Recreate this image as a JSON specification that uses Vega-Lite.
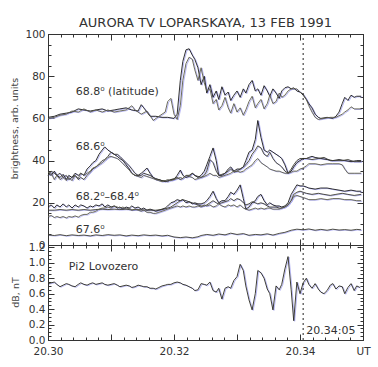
{
"$schema": "https://vega.github.io/schema/vega-lite/v6.json",
"autosize": {"type": "pad"},
"padding": {"left": 8, "top": 16, "right": 4, "bottom": 4},
"background": "white",
"config": {
  "view": {"stroke": "#333", "strokeWidth": 1},
  "axis": {"labelFont": "DejaVu Sans", "labelFontSize": 10.5, "labelColor": "#333", "tickColor": "#333", "tickWidth": 1, "titleFont": "DejaVu Sans", "titleFontSize": 9.5, "titleFontWeight": "normal", "titleColor": "#444", "grid": false, "domain": false},
  "title": {"font": "DejaVu Sans", "fontSize": 13, "fontWeight": "normal", "color": "#333"}
},
"datasets": {
  "top": [
{"s":"a1","x":20.3,"y":60.5},{"s":"a1","x":20.301,"y":61},{"s":"a1","x":20.3019,"y":62},{"s":"a1","x":20.3029,"y":62.5},{"s":"a1","x":20.3038,"y":63},{"s":"a1","x":20.3048,"y":64.5},{"s":"a1","x":20.3057,"y":64},{"s":"a1","x":20.3067,"y":63.5},{"s":"a1","x":20.3076,"y":64},{"s":"a1","x":20.3086,"y":64.5},{"s":"a1","x":20.3095,"y":63.5},{"s":"a1","x":20.3105,"y":64},{"s":"a1","x":20.3114,"y":64.5},{"s":"a1","x":20.3124,"y":65},{"s":"a1","x":20.3133,"y":64},{"s":"a1","x":20.3143,"y":63.5},{"s":"a1","x":20.3148,"y":66.5},{"s":"a1","x":20.3152,"y":65},{"s":"a1","x":20.3157,"y":63},{"s":"a1","x":20.3162,"y":61},{"s":"a1","x":20.3171,"y":61},{"s":"a1","x":20.3181,"y":60.5},{"s":"a1","x":20.319,"y":60.5},{"s":"a1","x":20.32,"y":60},{"s":"a1","x":20.3205,"y":62},{"s":"a1","x":20.321,"y":78},{"s":"a1","x":20.3214,"y":87},{"s":"a1","x":20.3219,"y":92.5},{"s":"a1","x":20.3224,"y":93},{"s":"a1","x":20.3229,"y":90},{"s":"a1","x":20.3233,"y":88},{"s":"a1","x":20.3238,"y":84},{"s":"a1","x":20.3243,"y":76},{"s":"a1","x":20.3248,"y":80},{"s":"a1","x":20.3252,"y":72},{"s":"a1","x":20.3257,"y":76},{"s":"a1","x":20.3262,"y":70},{"s":"a1","x":20.3267,"y":73},{"s":"a1","x":20.3271,"y":69},{"s":"a1","x":20.3276,"y":75},{"s":"a1","x":20.3281,"y":71},{"s":"a1","x":20.3286,"y":72.5},{"s":"a1","x":20.329,"y":68.5},{"s":"a1","x":20.3295,"y":71},{"s":"a1","x":20.33,"y":73},{"s":"a1","x":20.3305,"y":70},{"s":"a1","x":20.331,"y":74},{"s":"a1","x":20.3314,"y":72},{"s":"a1","x":20.3319,"y":76},{"s":"a1","x":20.3324,"y":78},{"s":"a1","x":20.3329,"y":73},{"s":"a1","x":20.3333,"y":74},{"s":"a1","x":20.3338,"y":71},{"s":"a1","x":20.3343,"y":75.5},{"s":"a1","x":20.3348,"y":73},{"s":"a1","x":20.3352,"y":70.5},{"s":"a1","x":20.3357,"y":74},{"s":"a1","x":20.3362,"y":72},{"s":"a1","x":20.3367,"y":69.5},{"s":"a1","x":20.3371,"y":73},{"s":"a1","x":20.3376,"y":74.5},{"s":"a1","x":20.3381,"y":75},{"s":"a1","x":20.3386,"y":74},{"s":"a1","x":20.339,"y":74.5},{"s":"a1","x":20.3395,"y":73},{"s":"a1","x":20.34,"y":72.5},{"s":"a1","x":20.3405,"y":71},{"s":"a1","x":20.341,"y":69},{"s":"a1","x":20.3414,"y":67},{"s":"a1","x":20.3419,"y":65},{"s":"a1","x":20.3424,"y":62},{"s":"a1","x":20.3429,"y":60.5},{"s":"a1","x":20.3433,"y":60},{"s":"a1","x":20.3443,"y":60.5},{"s":"a1","x":20.3452,"y":60},{"s":"a1","x":20.3457,"y":61},{"s":"a1","x":20.3462,"y":63},{"s":"a1","x":20.3467,"y":67},{"s":"a1","x":20.3471,"y":70},{"s":"a1","x":20.3476,"y":68.5},{"s":"a1","x":20.3481,"y":71},{"s":"a1","x":20.3486,"y":70},{"s":"a1","x":20.349,"y":70.5},{"s":"a1","x":20.3497,"y":70.5},
{"s":"a2","x":20.3,"y":60},{"s":"a2","x":20.301,"y":60.5},{"s":"a2","x":20.3019,"y":61.5},{"s":"a2","x":20.3029,"y":62},{"s":"a2","x":20.3038,"y":63.5},{"s":"a2","x":20.3048,"y":63},{"s":"a2","x":20.3057,"y":64.5},{"s":"a2","x":20.3067,"y":63},{"s":"a2","x":20.3076,"y":64},{"s":"a2","x":20.3086,"y":63},{"s":"a2","x":20.3095,"y":64},{"s":"a2","x":20.3105,"y":63},{"s":"a2","x":20.3114,"y":63.5},{"s":"a2","x":20.3124,"y":64},{"s":"a2","x":20.3133,"y":66},{"s":"a2","x":20.3138,"y":64},{"s":"a2","x":20.3148,"y":62},{"s":"a2","x":20.3157,"y":63.5},{"s":"a2","x":20.3167,"y":59},{"s":"a2","x":20.3176,"y":61},{"s":"a2","x":20.3186,"y":63},{"s":"a2","x":20.319,"y":68},{"s":"a2","x":20.3195,"y":69.5},{"s":"a2","x":20.32,"y":62},{"s":"a2","x":20.3205,"y":59.5},{"s":"a2","x":20.321,"y":66},{"s":"a2","x":20.3214,"y":78},{"s":"a2","x":20.3219,"y":86},{"s":"a2","x":20.3224,"y":89},{"s":"a2","x":20.3229,"y":88},{"s":"a2","x":20.3233,"y":83},{"s":"a2","x":20.3238,"y":78},{"s":"a2","x":20.3243,"y":84},{"s":"a2","x":20.3248,"y":77},{"s":"a2","x":20.3252,"y":73},{"s":"a2","x":20.3257,"y":74},{"s":"a2","x":20.3262,"y":67},{"s":"a2","x":20.3267,"y":69},{"s":"a2","x":20.3271,"y":64},{"s":"a2","x":20.3276,"y":66},{"s":"a2","x":20.3281,"y":70},{"s":"a2","x":20.3286,"y":65},{"s":"a2","x":20.329,"y":62.5},{"s":"a2","x":20.3295,"y":67},{"s":"a2","x":20.33,"y":63},{"s":"a2","x":20.3305,"y":65},{"s":"a2","x":20.331,"y":61.5},{"s":"a2","x":20.3314,"y":64},{"s":"a2","x":20.3319,"y":68},{"s":"a2","x":20.3324,"y":70.5},{"s":"a2","x":20.3329,"y":65},{"s":"a2","x":20.3333,"y":67},{"s":"a2","x":20.3338,"y":69},{"s":"a2","x":20.3343,"y":64.5},{"s":"a2","x":20.3348,"y":67},{"s":"a2","x":20.3352,"y":71},{"s":"a2","x":20.3357,"y":67},{"s":"a2","x":20.3362,"y":68},{"s":"a2","x":20.3367,"y":72},{"s":"a2","x":20.3371,"y":70},{"s":"a2","x":20.3376,"y":71},{"s":"a2","x":20.3381,"y":73},{"s":"a2","x":20.3386,"y":74},{"s":"a2","x":20.339,"y":74},{"s":"a2","x":20.3395,"y":74},{"s":"a2","x":20.34,"y":72.5},{"s":"a2","x":20.3405,"y":71.5},{"s":"a2","x":20.341,"y":69},{"s":"a2","x":20.3414,"y":66},{"s":"a2","x":20.3419,"y":63},{"s":"a2","x":20.3424,"y":60.5},{"s":"a2","x":20.3429,"y":59.5},{"s":"a2","x":20.3438,"y":60},{"s":"a2","x":20.3448,"y":60.5},{"s":"a2","x":20.3457,"y":60.5},{"s":"a2","x":20.3467,"y":62},{"s":"a2","x":20.3471,"y":63},{"s":"a2","x":20.3476,"y":64},{"s":"a2","x":20.3481,"y":65.5},{"s":"a2","x":20.3486,"y":64.5},{"s":"a2","x":20.3497,"y":64.5},
{"s":"b1","x":20.3,"y":34},{"s":"b1","x":20.3005,"y":33},{"s":"b1","x":20.301,"y":35},{"s":"b1","x":20.3014,"y":33},{"s":"b1","x":20.3019,"y":32},{"s":"b1","x":20.3024,"y":33.5},{"s":"b1","x":20.3029,"y":31},{"s":"b1","x":20.3033,"y":33},{"s":"b1","x":20.3038,"y":32},{"s":"b1","x":20.3043,"y":34},{"s":"b1","x":20.3048,"y":33},{"s":"b1","x":20.3052,"y":34},{"s":"b1","x":20.3057,"y":33},{"s":"b1","x":20.3062,"y":36},{"s":"b1","x":20.3067,"y":37.5},{"s":"b1","x":20.3071,"y":39},{"s":"b1","x":20.3076,"y":40},{"s":"b1","x":20.3081,"y":43},{"s":"b1","x":20.3086,"y":45},{"s":"b1","x":20.309,"y":46.5},{"s":"b1","x":20.3095,"y":45},{"s":"b1","x":20.31,"y":44},{"s":"b1","x":20.3105,"y":43},{"s":"b1","x":20.311,"y":42},{"s":"b1","x":20.3114,"y":41},{"s":"b1","x":20.3119,"y":40},{"s":"b1","x":20.3124,"y":38},{"s":"b1","x":20.3129,"y":36},{"s":"b1","x":20.3133,"y":34},{"s":"b1","x":20.3138,"y":33},{"s":"b1","x":20.3143,"y":33},{"s":"b1","x":20.3148,"y":34},{"s":"b1","x":20.3152,"y":35},{"s":"b1","x":20.3157,"y":36.5},{"s":"b1","x":20.3162,"y":34},{"s":"b1","x":20.3167,"y":32},{"s":"b1","x":20.3171,"y":31.5},{"s":"b1","x":20.3176,"y":31},{"s":"b1","x":20.3181,"y":30.5},{"s":"b1","x":20.3186,"y":30},{"s":"b1","x":20.319,"y":30.5},{"s":"b1","x":20.3195,"y":31},{"s":"b1","x":20.32,"y":31},{"s":"b1","x":20.3205,"y":33},{"s":"b1","x":20.321,"y":35.5},{"s":"b1","x":20.3214,"y":33},{"s":"b1","x":20.3219,"y":32},{"s":"b1","x":20.3224,"y":32.5},{"s":"b1","x":20.3229,"y":34},{"s":"b1","x":20.3233,"y":33},{"s":"b1","x":20.3238,"y":32},{"s":"b1","x":20.3243,"y":33},{"s":"b1","x":20.3248,"y":35},{"s":"b1","x":20.3252,"y":38},{"s":"b1","x":20.3257,"y":42},{"s":"b1","x":20.3262,"y":46},{"s":"b1","x":20.3267,"y":40},{"s":"b1","x":20.3271,"y":33},{"s":"b1","x":20.3276,"y":33},{"s":"b1","x":20.3281,"y":34},{"s":"b1","x":20.3286,"y":36},{"s":"b1","x":20.329,"y":37},{"s":"b1","x":20.3295,"y":35},{"s":"b1","x":20.33,"y":36},{"s":"b1","x":20.3305,"y":36},{"s":"b1","x":20.331,"y":37},{"s":"b1","x":20.3314,"y":40},{"s":"b1","x":20.3319,"y":44},{"s":"b1","x":20.3324,"y":45},{"s":"b1","x":20.3329,"y":50},{"s":"b1","x":20.3333,"y":59},{"s":"b1","x":20.3338,"y":51},{"s":"b1","x":20.3343,"y":45},{"s":"b1","x":20.3348,"y":44},{"s":"b1","x":20.3352,"y":45},{"s":"b1","x":20.3357,"y":44},{"s":"b1","x":20.3362,"y":43},{"s":"b1","x":20.3367,"y":42},{"s":"b1","x":20.3371,"y":41},{"s":"b1","x":20.3376,"y":38},{"s":"b1","x":20.3381,"y":34},{"s":"b1","x":20.3386,"y":35},{"s":"b1","x":20.339,"y":37},{"s":"b1","x":20.3395,"y":39},{"s":"b1","x":20.34,"y":40},{"s":"b1","x":20.3405,"y":41},{"s":"b1","x":20.341,"y":41},{"s":"b1","x":20.3414,"y":41.5},{"s":"b1","x":20.3419,"y":42},{"s":"b1","x":20.3424,"y":41.5},{"s":"b1","x":20.3433,"y":41},{"s":"b1","x":20.3443,"y":40.5},{"s":"b1","x":20.3452,"y":40},{"s":"b1","x":20.3462,"y":40.5},{"s":"b1","x":20.3471,"y":40},{"s":"b1","x":20.3481,"y":39.5},{"s":"b1","x":20.349,"y":40},{"s":"b1","x":20.3497,"y":40},
{"s":"b2","x":20.3,"y":33},{"s":"b2","x":20.3005,"y":35},{"s":"b2","x":20.301,"y":34},{"s":"b2","x":20.3014,"y":33},{"s":"b2","x":20.3019,"y":34},{"s":"b2","x":20.3024,"y":32},{"s":"b2","x":20.3029,"y":33},{"s":"b2","x":20.3033,"y":31},{"s":"b2","x":20.3038,"y":32},{"s":"b2","x":20.3043,"y":33},{"s":"b2","x":20.3048,"y":31},{"s":"b2","x":20.3052,"y":32},{"s":"b2","x":20.3057,"y":31},{"s":"b2","x":20.3062,"y":33},{"s":"b2","x":20.3067,"y":34.5},{"s":"b2","x":20.3071,"y":36},{"s":"b2","x":20.3076,"y":37},{"s":"b2","x":20.3081,"y":38.5},{"s":"b2","x":20.3086,"y":40},{"s":"b2","x":20.309,"y":40.5},{"s":"b2","x":20.3095,"y":42},{"s":"b2","x":20.31,"y":44},{"s":"b2","x":20.3105,"y":43},{"s":"b2","x":20.311,"y":43},{"s":"b2","x":20.3114,"y":42},{"s":"b2","x":20.3119,"y":40.5},{"s":"b2","x":20.3124,"y":39},{"s":"b2","x":20.3129,"y":37.5},{"s":"b2","x":20.3133,"y":36},{"s":"b2","x":20.3138,"y":34},{"s":"b2","x":20.3143,"y":33},{"s":"b2","x":20.3148,"y":33},{"s":"b2","x":20.3152,"y":34},{"s":"b2","x":20.3157,"y":33.5},{"s":"b2","x":20.3162,"y":33},{"s":"b2","x":20.3167,"y":32},{"s":"b2","x":20.3171,"y":31},{"s":"b2","x":20.3176,"y":31},{"s":"b2","x":20.3181,"y":30.5},{"s":"b2","x":20.3186,"y":30.5},{"s":"b2","x":20.319,"y":30},{"s":"b2","x":20.3195,"y":31},{"s":"b2","x":20.32,"y":31.5},{"s":"b2","x":20.3205,"y":32},{"s":"b2","x":20.321,"y":31},{"s":"b2","x":20.3214,"y":31.5},{"s":"b2","x":20.3219,"y":33},{"s":"b2","x":20.3224,"y":33},{"s":"b2","x":20.3229,"y":34},{"s":"b2","x":20.3233,"y":33},{"s":"b2","x":20.3238,"y":32.5},{"s":"b2","x":20.3243,"y":32},{"s":"b2","x":20.3248,"y":33},{"s":"b2","x":20.3252,"y":35},{"s":"b2","x":20.3257,"y":40.5},{"s":"b2","x":20.3262,"y":39},{"s":"b2","x":20.3267,"y":35},{"s":"b2","x":20.3271,"y":33},{"s":"b2","x":20.3276,"y":33.5},{"s":"b2","x":20.3281,"y":34},{"s":"b2","x":20.3286,"y":35},{"s":"b2","x":20.329,"y":36},{"s":"b2","x":20.3295,"y":34.5},{"s":"b2","x":20.33,"y":35},{"s":"b2","x":20.3305,"y":36},{"s":"b2","x":20.331,"y":37},{"s":"b2","x":20.3314,"y":38},{"s":"b2","x":20.3319,"y":40},{"s":"b2","x":20.3324,"y":43},{"s":"b2","x":20.3329,"y":45},{"s":"b2","x":20.3333,"y":47},{"s":"b2","x":20.3338,"y":46},{"s":"b2","x":20.3343,"y":43},{"s":"b2","x":20.3348,"y":42},{"s":"b2","x":20.3352,"y":44},{"s":"b2","x":20.3357,"y":41},{"s":"b2","x":20.3362,"y":39},{"s":"b2","x":20.3367,"y":38},{"s":"b2","x":20.3371,"y":37},{"s":"b2","x":20.3376,"y":35},{"s":"b2","x":20.3381,"y":34},{"s":"b2","x":20.3386,"y":36},{"s":"b2","x":20.339,"y":38},{"s":"b2","x":20.3395,"y":40},{"s":"b2","x":20.34,"y":41},{"s":"b2","x":20.341,"y":41},{"s":"b2","x":20.3419,"y":40.5},{"s":"b2","x":20.3429,"y":41},{"s":"b2","x":20.3438,"y":41.5},{"s":"b2","x":20.3448,"y":40},{"s":"b2","x":20.3457,"y":40},{"s":"b2","x":20.3467,"y":40},{"s":"b2","x":20.3476,"y":40.5},{"s":"b2","x":20.3486,"y":39.5},{"s":"b2","x":20.3497,"y":39.5},
{"s":"b3","x":20.3,"y":34.5},{"s":"b3","x":20.3005,"y":34},{"s":"b3","x":20.301,"y":31},{"s":"b3","x":20.3014,"y":33},{"s":"b3","x":20.3019,"y":31},{"s":"b3","x":20.3024,"y":32},{"s":"b3","x":20.3029,"y":30.5},{"s":"b3","x":20.3033,"y":32},{"s":"b3","x":20.3038,"y":30.5},{"s":"b3","x":20.3043,"y":33},{"s":"b3","x":20.3048,"y":31.5},{"s":"b3","x":20.3052,"y":34},{"s":"b3","x":20.3057,"y":33},{"s":"b3","x":20.3062,"y":34},{"s":"b3","x":20.3067,"y":35},{"s":"b3","x":20.3071,"y":36.5},{"s":"b3","x":20.3076,"y":37},{"s":"b3","x":20.3081,"y":38},{"s":"b3","x":20.3086,"y":39},{"s":"b3","x":20.309,"y":40},{"s":"b3","x":20.3095,"y":41.5},{"s":"b3","x":20.31,"y":42},{"s":"b3","x":20.3105,"y":41.5},{"s":"b3","x":20.311,"y":41},{"s":"b3","x":20.3114,"y":40},{"s":"b3","x":20.3119,"y":38.5},{"s":"b3","x":20.3124,"y":37},{"s":"b3","x":20.3129,"y":35.5},{"s":"b3","x":20.3133,"y":34},{"s":"b3","x":20.3138,"y":33},{"s":"b3","x":20.3143,"y":32.5},{"s":"b3","x":20.3148,"y":32},{"s":"b3","x":20.3152,"y":33},{"s":"b3","x":20.3157,"y":32.5},{"s":"b3","x":20.3162,"y":32},{"s":"b3","x":20.3167,"y":31.5},{"s":"b3","x":20.3171,"y":31},{"s":"b3","x":20.3176,"y":30.5},{"s":"b3","x":20.3181,"y":30},{"s":"b3","x":20.3186,"y":30.5},{"s":"b3","x":20.319,"y":31},{"s":"b3","x":20.3195,"y":30.5},{"s":"b3","x":20.32,"y":31},{"s":"b3","x":20.3205,"y":31.5},{"s":"b3","x":20.321,"y":32},{"s":"b3","x":20.3214,"y":31.5},{"s":"b3","x":20.3219,"y":33},{"s":"b3","x":20.3224,"y":32.5},{"s":"b3","x":20.3229,"y":32},{"s":"b3","x":20.3233,"y":31},{"s":"b3","x":20.3238,"y":31.5},{"s":"b3","x":20.3243,"y":32},{"s":"b3","x":20.3248,"y":32.5},{"s":"b3","x":20.3252,"y":33},{"s":"b3","x":20.3257,"y":34},{"s":"b3","x":20.3262,"y":33},{"s":"b3","x":20.3267,"y":33},{"s":"b3","x":20.3271,"y":32},{"s":"b3","x":20.3276,"y":32.5},{"s":"b3","x":20.3281,"y":33},{"s":"b3","x":20.3286,"y":33.5},{"s":"b3","x":20.329,"y":34},{"s":"b3","x":20.3295,"y":35},{"s":"b3","x":20.33,"y":35},{"s":"b3","x":20.3305,"y":34.5},{"s":"b3","x":20.331,"y":35},{"s":"b3","x":20.3314,"y":36},{"s":"b3","x":20.3319,"y":37},{"s":"b3","x":20.3324,"y":38},{"s":"b3","x":20.3329,"y":40},{"s":"b3","x":20.3333,"y":41},{"s":"b3","x":20.3338,"y":39},{"s":"b3","x":20.3343,"y":38},{"s":"b3","x":20.3348,"y":37},{"s":"b3","x":20.3352,"y":36},{"s":"b3","x":20.3357,"y":35.5},{"s":"b3","x":20.3362,"y":35},{"s":"b3","x":20.3367,"y":35},{"s":"b3","x":20.3371,"y":34.5},{"s":"b3","x":20.3376,"y":34},{"s":"b3","x":20.3381,"y":34},{"s":"b3","x":20.3386,"y":34.5},{"s":"b3","x":20.339,"y":35},{"s":"b3","x":20.3395,"y":35},{"s":"b3","x":20.34,"y":36},{"s":"b3","x":20.3405,"y":36.5},{"s":"b3","x":20.341,"y":37.5},{"s":"b3","x":20.3414,"y":38.5},{"s":"b3","x":20.3424,"y":38.5},{"s":"b3","x":20.3433,"y":38},{"s":"b3","x":20.3443,"y":38.5},{"s":"b3","x":20.3452,"y":38.5},{"s":"b3","x":20.3462,"y":38.5},{"s":"b3","x":20.3467,"y":38},{"s":"b3","x":20.3471,"y":36},{"s":"b3","x":20.3476,"y":34},{"s":"b3","x":20.3486,"y":34},{"s":"b3","x":20.3497,"y":34},
{"s":"c1","x":20.3,"y":18},{"s":"c1","x":20.3005,"y":19},{"s":"c1","x":20.301,"y":17.5},{"s":"c1","x":20.3014,"y":19},{"s":"c1","x":20.3019,"y":18},{"s":"c1","x":20.3024,"y":19.5},{"s":"c1","x":20.3029,"y":18},{"s":"c1","x":20.3033,"y":19},{"s":"c1","x":20.3038,"y":17.5},{"s":"c1","x":20.3043,"y":19},{"s":"c1","x":20.3048,"y":18},{"s":"c1","x":20.3052,"y":19},{"s":"c1","x":20.3057,"y":18.5},{"s":"c1","x":20.3062,"y":17.5},{"s":"c1","x":20.3067,"y":18.5},{"s":"c1","x":20.3071,"y":18},{"s":"c1","x":20.3076,"y":19},{"s":"c1","x":20.3081,"y":18.5},{"s":"c1","x":20.3086,"y":19.5},{"s":"c1","x":20.309,"y":18},{"s":"c1","x":20.3095,"y":19},{"s":"c1","x":20.31,"y":18},{"s":"c1","x":20.3105,"y":18.5},{"s":"c1","x":20.311,"y":17.5},{"s":"c1","x":20.3114,"y":18},{"s":"c1","x":20.3119,"y":17},{"s":"c1","x":20.3124,"y":18},{"s":"c1","x":20.3129,"y":17.5},{"s":"c1","x":20.3133,"y":18.5},{"s":"c1","x":20.3138,"y":17.5},{"s":"c1","x":20.3143,"y":18},{"s":"c1","x":20.3148,"y":17},{"s":"c1","x":20.3152,"y":17.5},{"s":"c1","x":20.3157,"y":16.5},{"s":"c1","x":20.3162,"y":17},{"s":"c1","x":20.3167,"y":16.5},{"s":"c1","x":20.3171,"y":16},{"s":"c1","x":20.3176,"y":16.5},{"s":"c1","x":20.3181,"y":17},{"s":"c1","x":20.3186,"y":17.5},{"s":"c1","x":20.319,"y":18.5},{"s":"c1","x":20.3195,"y":20},{"s":"c1","x":20.32,"y":20.5},{"s":"c1","x":20.3205,"y":21.5},{"s":"c1","x":20.321,"y":21},{"s":"c1","x":20.3214,"y":21.5},{"s":"c1","x":20.3219,"y":20},{"s":"c1","x":20.3224,"y":20.5},{"s":"c1","x":20.3229,"y":19.5},{"s":"c1","x":20.3233,"y":20},{"s":"c1","x":20.3238,"y":19.5},{"s":"c1","x":20.3243,"y":19.5},{"s":"c1","x":20.3248,"y":20},{"s":"c1","x":20.3252,"y":21},{"s":"c1","x":20.3257,"y":23},{"s":"c1","x":20.3262,"y":25.5},{"s":"c1","x":20.3267,"y":22},{"s":"c1","x":20.3271,"y":20},{"s":"c1","x":20.3276,"y":21},{"s":"c1","x":20.3281,"y":21},{"s":"c1","x":20.3286,"y":23},{"s":"c1","x":20.329,"y":25},{"s":"c1","x":20.3295,"y":24},{"s":"c1","x":20.33,"y":26},{"s":"c1","x":20.3305,"y":28.5},{"s":"c1","x":20.331,"y":22},{"s":"c1","x":20.3314,"y":17},{"s":"c1","x":20.3319,"y":18},{"s":"c1","x":20.3324,"y":20},{"s":"c1","x":20.3329,"y":21},{"s":"c1","x":20.3333,"y":23},{"s":"c1","x":20.3338,"y":24},{"s":"c1","x":20.3343,"y":21},{"s":"c1","x":20.3348,"y":19},{"s":"c1","x":20.3352,"y":20},{"s":"c1","x":20.3357,"y":19},{"s":"c1","x":20.3362,"y":18.5},{"s":"c1","x":20.3367,"y":18.5},{"s":"c1","x":20.3371,"y":18},{"s":"c1","x":20.3376,"y":18.5},{"s":"c1","x":20.3381,"y":20},{"s":"c1","x":20.3386,"y":24},{"s":"c1","x":20.339,"y":26},{"s":"c1","x":20.3395,"y":28.5},{"s":"c1","x":20.34,"y":28},{"s":"c1","x":20.3405,"y":28},{"s":"c1","x":20.341,"y":27.5},{"s":"c1","x":20.3414,"y":27},{"s":"c1","x":20.3424,"y":26.5},{"s":"c1","x":20.3433,"y":27},{"s":"c1","x":20.3443,"y":27},{"s":"c1","x":20.3452,"y":26.5},{"s":"c1","x":20.3462,"y":26},{"s":"c1","x":20.3471,"y":25.5},{"s":"c1","x":20.3481,"y":26},{"s":"c1","x":20.349,"y":25.5},{"s":"c1","x":20.3497,"y":25.5},
{"s":"c2","x":20.3,"y":16.5},{"s":"c2","x":20.301,"y":16.5},{"s":"c2","x":20.3019,"y":16.8},{"s":"c2","x":20.3029,"y":16.5},{"s":"c2","x":20.3038,"y":16.8},{"s":"c2","x":20.3048,"y":16.5},{"s":"c2","x":20.3057,"y":16.8},{"s":"c2","x":20.3067,"y":16.5},{"s":"c2","x":20.3076,"y":16.8},{"s":"c2","x":20.3086,"y":17},{"s":"c2","x":20.3095,"y":16.8},{"s":"c2","x":20.3105,"y":17},{"s":"c2","x":20.3114,"y":16.8},{"s":"c2","x":20.3124,"y":17},{"s":"c2","x":20.3133,"y":16.6},{"s":"c2","x":20.3143,"y":16.8},{"s":"c2","x":20.3152,"y":16.6},{"s":"c2","x":20.3162,"y":16.5},{"s":"c2","x":20.3171,"y":16.5},{"s":"c2","x":20.3181,"y":16.8},{"s":"c2","x":20.319,"y":17.5},{"s":"c2","x":20.3195,"y":18},{"s":"c2","x":20.32,"y":19},{"s":"c2","x":20.3205,"y":20},{"s":"c2","x":20.321,"y":21},{"s":"c2","x":20.3214,"y":21.5},{"s":"c2","x":20.3219,"y":21},{"s":"c2","x":20.3224,"y":20.5},{"s":"c2","x":20.3229,"y":20},{"s":"c2","x":20.3233,"y":19.5},{"s":"c2","x":20.3238,"y":19},{"s":"c2","x":20.3243,"y":18.5},{"s":"c2","x":20.3248,"y":18.5},{"s":"c2","x":20.3252,"y":19},{"s":"c2","x":20.3257,"y":20},{"s":"c2","x":20.3262,"y":21},{"s":"c2","x":20.3267,"y":20},{"s":"c2","x":20.3271,"y":19.5},{"s":"c2","x":20.3276,"y":20},{"s":"c2","x":20.3281,"y":20.5},{"s":"c2","x":20.3286,"y":21},{"s":"c2","x":20.329,"y":22},{"s":"c2","x":20.3295,"y":21},{"s":"c2","x":20.33,"y":22},{"s":"c2","x":20.3305,"y":21.5},{"s":"c2","x":20.331,"y":20},{"s":"c2","x":20.3314,"y":19},{"s":"c2","x":20.3319,"y":19.5},{"s":"c2","x":20.3324,"y":20.5},{"s":"c2","x":20.3329,"y":20},{"s":"c2","x":20.3333,"y":19.5},{"s":"c2","x":20.3338,"y":20},{"s":"c2","x":20.3343,"y":19.5},{"s":"c2","x":20.3348,"y":18.5},{"s":"c2","x":20.3352,"y":18},{"s":"c2","x":20.3357,"y":18},{"s":"c2","x":20.3362,"y":18},{"s":"c2","x":20.3367,"y":17.5},{"s":"c2","x":20.3371,"y":17.5},{"s":"c2","x":20.3376,"y":18},{"s":"c2","x":20.3381,"y":19},{"s":"c2","x":20.3386,"y":21},{"s":"c2","x":20.339,"y":24},{"s":"c2","x":20.3395,"y":25},{"s":"c2","x":20.34,"y":25.5},{"s":"c2","x":20.3405,"y":25},{"s":"c2","x":20.341,"y":24.5},{"s":"c2","x":20.3419,"y":24},{"s":"c2","x":20.3429,"y":24.5},{"s":"c2","x":20.3438,"y":24},{"s":"c2","x":20.3448,"y":23.5},{"s":"c2","x":20.3457,"y":24},{"s":"c2","x":20.3467,"y":24.5},{"s":"c2","x":20.3476,"y":24},{"s":"c2","x":20.3486,"y":23.5},{"s":"c2","x":20.3497,"y":24},
{"s":"c3","x":20.3,"y":13.5},{"s":"c3","x":20.3005,"y":14},{"s":"c3","x":20.301,"y":13},{"s":"c3","x":20.3014,"y":13.5},{"s":"c3","x":20.3019,"y":13},{"s":"c3","x":20.3024,"y":13.5},{"s":"c3","x":20.3029,"y":12.8},{"s":"c3","x":20.3033,"y":13.5},{"s":"c3","x":20.3038,"y":13.2},{"s":"c3","x":20.3043,"y":13.8},{"s":"c3","x":20.3048,"y":13.2},{"s":"c3","x":20.3052,"y":14},{"s":"c3","x":20.3057,"y":14.5},{"s":"c3","x":20.3062,"y":14.5},{"s":"c3","x":20.3067,"y":15.5},{"s":"c3","x":20.3071,"y":15.5},{"s":"c3","x":20.3076,"y":16},{"s":"c3","x":20.3081,"y":17},{"s":"c3","x":20.3086,"y":17.5},{"s":"c3","x":20.309,"y":17.5},{"s":"c3","x":20.3095,"y":18},{"s":"c3","x":20.31,"y":17.5},{"s":"c3","x":20.3105,"y":18.5},{"s":"c3","x":20.311,"y":18},{"s":"c3","x":20.3114,"y":17.5},{"s":"c3","x":20.3119,"y":18},{"s":"c3","x":20.3124,"y":17},{"s":"c3","x":20.3129,"y":17.5},{"s":"c3","x":20.3133,"y":16.5},{"s":"c3","x":20.3138,"y":17},{"s":"c3","x":20.3143,"y":16.5},{"s":"c3","x":20.3148,"y":16},{"s":"c3","x":20.3152,"y":16.5},{"s":"c3","x":20.3157,"y":15.5},{"s":"c3","x":20.3162,"y":15.5},{"s":"c3","x":20.3167,"y":15},{"s":"c3","x":20.3171,"y":15},{"s":"c3","x":20.3176,"y":15.5},{"s":"c3","x":20.3181,"y":16},{"s":"c3","x":20.3186,"y":16.5},{"s":"c3","x":20.319,"y":17},{"s":"c3","x":20.3195,"y":17.5},{"s":"c3","x":20.32,"y":18},{"s":"c3","x":20.3205,"y":18.5},{"s":"c3","x":20.321,"y":18},{"s":"c3","x":20.3214,"y":18.5},{"s":"c3","x":20.3219,"y":18},{"s":"c3","x":20.3224,"y":18.5},{"s":"c3","x":20.3229,"y":18},{"s":"c3","x":20.3233,"y":18},{"s":"c3","x":20.3238,"y":18.5},{"s":"c3","x":20.3243,"y":18},{"s":"c3","x":20.3248,"y":19},{"s":"c3","x":20.3252,"y":18.5},{"s":"c3","x":20.3257,"y":19},{"s":"c3","x":20.3262,"y":18},{"s":"c3","x":20.3267,"y":18.5},{"s":"c3","x":20.3271,"y":19.5},{"s":"c3","x":20.3276,"y":18.5},{"s":"c3","x":20.3281,"y":18},{"s":"c3","x":20.3286,"y":19},{"s":"c3","x":20.329,"y":18.5},{"s":"c3","x":20.3295,"y":19},{"s":"c3","x":20.33,"y":18},{"s":"c3","x":20.3305,"y":19},{"s":"c3","x":20.331,"y":17.5},{"s":"c3","x":20.3314,"y":17},{"s":"c3","x":20.3319,"y":16.5},{"s":"c3","x":20.3324,"y":17},{"s":"c3","x":20.3329,"y":17.5},{"s":"c3","x":20.3333,"y":17},{"s":"c3","x":20.3338,"y":17.5},{"s":"c3","x":20.3343,"y":17},{"s":"c3","x":20.3348,"y":17.5},{"s":"c3","x":20.3352,"y":17.5},{"s":"c3","x":20.3357,"y":17},{"s":"c3","x":20.3362,"y":17},{"s":"c3","x":20.3367,"y":17},{"s":"c3","x":20.3371,"y":17.5},{"s":"c3","x":20.3376,"y":18},{"s":"c3","x":20.3381,"y":19},{"s":"c3","x":20.3386,"y":21},{"s":"c3","x":20.339,"y":23},{"s":"c3","x":20.3395,"y":23.5},{"s":"c3","x":20.34,"y":23},{"s":"c3","x":20.3405,"y":22.5},{"s":"c3","x":20.341,"y":22},{"s":"c3","x":20.3414,"y":21.5},{"s":"c3","x":20.3424,"y":21.5},{"s":"c3","x":20.3433,"y":22},{"s":"c3","x":20.3443,"y":21.5},{"s":"c3","x":20.3452,"y":22},{"s":"c3","x":20.3462,"y":22},{"s":"c3","x":20.3471,"y":21.5},{"s":"c3","x":20.3481,"y":21.5},{"s":"c3","x":20.349,"y":21},{"s":"c3","x":20.3497,"y":21},
{"s":"d1","x":20.3,"y":4.8},{"s":"d1","x":20.301,"y":4.5},{"s":"d1","x":20.3019,"y":4.9},{"s":"d1","x":20.3029,"y":4.4},{"s":"d1","x":20.3038,"y":4.8},{"s":"d1","x":20.3048,"y":4.5},{"s":"d1","x":20.3057,"y":4.7},{"s":"d1","x":20.3067,"y":4.3},{"s":"d1","x":20.3076,"y":4.8},{"s":"d1","x":20.3086,"y":4.5},{"s":"d1","x":20.3095,"y":4.9},{"s":"d1","x":20.3105,"y":4.6},{"s":"d1","x":20.3114,"y":4.8},{"s":"d1","x":20.3124,"y":4.3},{"s":"d1","x":20.3133,"y":4.7},{"s":"d1","x":20.3143,"y":4.4},{"s":"d1","x":20.3152,"y":4.8},{"s":"d1","x":20.3162,"y":4.5},{"s":"d1","x":20.3171,"y":4.7},{"s":"d1","x":20.3181,"y":4.3},{"s":"d1","x":20.319,"y":4.6},{"s":"d1","x":20.32,"y":3.8},{"s":"d1","x":20.321,"y":3.5},{"s":"d1","x":20.3219,"y":3.8},{"s":"d1","x":20.3229,"y":3.4},{"s":"d1","x":20.3238,"y":3.9},{"s":"d1","x":20.3243,"y":4.5},{"s":"d1","x":20.3252,"y":5},{"s":"d1","x":20.3262,"y":4.6},{"s":"d1","x":20.3271,"y":5.2},{"s":"d1","x":20.3281,"y":4.8},{"s":"d1","x":20.329,"y":5.6},{"s":"d1","x":20.33,"y":5},{"s":"d1","x":20.331,"y":5.4},{"s":"d1","x":20.3319,"y":4.6},{"s":"d1","x":20.3329,"y":5},{"s":"d1","x":20.3338,"y":4.8},{"s":"d1","x":20.3348,"y":5.3},{"s":"d1","x":20.3357,"y":4.7},{"s":"d1","x":20.3367,"y":5.5},{"s":"d1","x":20.3376,"y":6},{"s":"d1","x":20.3386,"y":7},{"s":"d1","x":20.3395,"y":7.5},{"s":"d1","x":20.3405,"y":7.2},{"s":"d1","x":20.3414,"y":7.6},{"s":"d1","x":20.3424,"y":7},{"s":"d1","x":20.3433,"y":7.4},{"s":"d1","x":20.3443,"y":7},{"s":"d1","x":20.3452,"y":7.5},{"s":"d1","x":20.3462,"y":7.1},{"s":"d1","x":20.3471,"y":7.3},{"s":"d1","x":20.3481,"y":7},{"s":"d1","x":20.349,"y":7.4},{"s":"d1","x":20.3497,"y":7.2}
  ],
  "pi2": [
{"x":20.3,"y":0.73},{"x":20.3005,"y":0.74},{"x":20.301,"y":0.75},{"x":20.3014,"y":0.72},{"x":20.3019,"y":0.69},{"x":20.3024,"y":0.71},{"x":20.3029,"y":0.73},{"x":20.3033,"y":0.72},{"x":20.3038,"y":0.7},{"x":20.3043,"y":0.69},{"x":20.3048,"y":0.72},{"x":20.3052,"y":0.74},{"x":20.3057,"y":0.72},{"x":20.3062,"y":0.71},{"x":20.3067,"y":0.73},{"x":20.3071,"y":0.74},{"x":20.3076,"y":0.72},{"x":20.3081,"y":0.73},{"x":20.3086,"y":0.74},{"x":20.309,"y":0.72},{"x":20.3095,"y":0.71},{"x":20.31,"y":0.72},{"x":20.3105,"y":0.73},{"x":20.311,"y":0.71},{"x":20.3114,"y":0.69},{"x":20.3119,"y":0.7},{"x":20.3124,"y":0.71},{"x":20.3129,"y":0.7},{"x":20.3133,"y":0.68},{"x":20.3138,"y":0.69},{"x":20.3143,"y":0.71},{"x":20.3148,"y":0.7},{"x":20.3152,"y":0.69},{"x":20.3157,"y":0.69},{"x":20.3162,"y":0.67},{"x":20.3167,"y":0.67},{"x":20.3171,"y":0.66},{"x":20.3176,"y":0.68},{"x":20.3181,"y":0.7},{"x":20.3186,"y":0.71},{"x":20.319,"y":0.72},{"x":20.3195,"y":0.72},{"x":20.32,"y":0.74},{"x":20.3205,"y":0.75},{"x":20.321,"y":0.74},{"x":20.3214,"y":0.72},{"x":20.3219,"y":0.71},{"x":20.3224,"y":0.69},{"x":20.3229,"y":0.67},{"x":20.3233,"y":0.64},{"x":20.3238,"y":0.65},{"x":20.3243,"y":0.73},{"x":20.3248,"y":0.72},{"x":20.3252,"y":0.71},{"x":20.3257,"y":0.75},{"x":20.3262,"y":0.64},{"x":20.3267,"y":0.62},{"x":20.3271,"y":0.67},{"x":20.3276,"y":0.53},{"x":20.3281,"y":0.67},{"x":20.3286,"y":0.69},{"x":20.329,"y":0.67},{"x":20.3295,"y":0.77},{"x":20.33,"y":0.82},{"x":20.3305,"y":0.98},{"x":20.331,"y":0.9},{"x":20.3314,"y":0.7},{"x":20.3319,"y":0.52},{"x":20.3324,"y":0.39},{"x":20.3329,"y":0.6},{"x":20.3333,"y":0.9},{"x":20.3338,"y":0.87},{"x":20.3343,"y":0.8},{"x":20.3348,"y":0.66},{"x":20.3352,"y":0.6},{"x":20.3357,"y":0.39},{"x":20.3362,"y":0.7},{"x":20.3367,"y":0.65},{"x":20.3371,"y":0.72},{"x":20.3376,"y":0.92},{"x":20.3381,"y":1.08},{"x":20.3386,"y":0.65},{"x":20.339,"y":0.25},{"x":20.3395,"y":0.75},{"x":20.34,"y":0.6},{"x":20.3405,"y":0.74},{"x":20.341,"y":0.8},{"x":20.3414,"y":0.72},{"x":20.3419,"y":0.67},{"x":20.3424,"y":0.73},{"x":20.3429,"y":0.66},{"x":20.3433,"y":0.62},{"x":20.3438,"y":0.6},{"x":20.3443,"y":0.64},{"x":20.3448,"y":0.71},{"x":20.3452,"y":0.73},{"x":20.3457,"y":0.66},{"x":20.3462,"y":0.7},{"x":20.3467,"y":0.69},{"x":20.3471,"y":0.6},{"x":20.3476,"y":0.68},{"x":20.3481,"y":0.73},{"x":20.3486,"y":0.64},{"x":20.349,"y":0.7},{"x":20.3495,"y":0.68}
  ],
  "toplab": [
{"label":"68.8⁰ (latitude)","x":20.3044,"y":72.7},
{"label":"68.6⁰","x":20.3044,"y":46.6},
{"label":"68.2⁰–68.4⁰","x":20.3044,"y":22.9},
{"label":"67.6⁰","x":20.3044,"y":7.1}
  ],
  "botlab": [
{"label":"Pi2 Lovozero","x":20.3033,"y":0.94},
{"label":"20.34:05","x":20.341,"y":0.116}
  ],
  "mark": [{"t":20.3405}]
},
"vconcat": [
{
  "width": 315, "height": 211,
  "title": {"text": "AURORA TV LOPARSKAYA, 13 FEB 1991", "offset": -1, "frame": "group", "anchor": "middle"},
  "layer": [
    {"data": {"name": "top"},
     "mark": {"type": "line", "color": "#9c9cf0", "strokeWidth": 0.8, "opacity": 0.9, "xOffset": 1, "yOffset": 0.6},
     "encoding": {
       "x": {"field": "x", "type": "quantitative", "scale": {"domain": [20.3, 20.35], "nice": false, "zero": false},
             "axis": {"orient": "bottom", "values": [20.3,20.31,20.32,20.33,20.34,20.35], "labels": false, "tickSize": -6, "title": null}},
       "y": {"field": "y", "type": "quantitative", "scale": {"domain": [0, 100], "nice": false},
             "axis": {"orient": "left", "values": [0,20,40,60,80,100], "tickSize": -6, "labelPadding": 9, "title": "brightness, arb. units", "titleX": -34, "titleY": 94, "titleAngle": -90, "titleBaseline": "middle"}},
       "detail": {"field": "s"}
     }},
    {"data": {"name": "top"},
     "mark": {"type": "line", "strokeWidth": 0.9},
     "encoding": {
       "x": {"field": "x", "type": "quantitative", "scale": {"domain": [20.3, 20.35], "nice": false, "zero": false},
             "axis": {"orient": "top", "values": [20.3,20.31,20.32,20.33,20.34,20.35], "labels": false, "tickSize": -6, "title": null}},
       "y": {"field": "y", "type": "quantitative", "scale": {"domain": [0, 100], "nice": false},
             "axis": {"orient": "right", "values": [0,20,40,60,80,100], "labels": false, "tickSize": -6, "title": null}},
       "color": {"field": "s", "type": "nominal", "legend": null,
                 "scale": {"domain": ["a1","a2","b1","b2","b3","c1","c2","c3","d1"], "range": ["#1a1a1a","#5c5c4a","#1a1a1a","#3c3c30","#5c5c4a","#1a1a1a","#3c3c30","#5c5c4a","#3c3c30"]}}
     }},
    {"data": {"name": "toplab"},
     "mark": {"type": "text", "align": "left", "baseline": "middle", "font": "DejaVu Sans", "fontSize": 11, "color": "#333"},
     "encoding": {
       "x": {"field": "x", "type": "quantitative", "scale": {"domain": [20.3, 20.35], "nice": false, "zero": false},
             "axis": {"orient": "bottom", "values": [20.3,20.302,20.304,20.306,20.308,20.31,20.312,20.314,20.316,20.318,20.32,20.322,20.324,20.326,20.328,20.33,20.332,20.334,20.336,20.338,20.34,20.342,20.344,20.346,20.348,20.35], "labels": false, "tickSize": -3, "title": null}},
       "y": {"field": "y", "type": "quantitative", "scale": {"domain": [0, 100], "nice": false},
             "axis": {"orient": "left", "values": [0,5,10,15,20,25,30,35,40,45,50,55,60,65,70,75,80,85,90,95,100], "labels": false, "tickSize": -3, "title": null}},
       "text": {"field": "label"}
     }},
    {"data": {"name": "mark"},
     "mark": {"type": "rule", "strokeDash": [2, 3], "color": "#222", "strokeWidth": 1},
     "encoding": {
       "x": {"field": "t", "type": "quantitative", "scale": {"domain": [20.3, 20.35], "nice": false, "zero": false},
             "axis": {"orient": "top", "values": [20.3,20.302,20.304,20.306,20.308,20.31,20.312,20.314,20.316,20.318,20.32,20.322,20.324,20.326,20.328,20.33,20.332,20.334,20.336,20.338,20.34,20.342,20.344,20.346,20.348,20.35], "labels": false, "tickSize": -3, "title": null}},
       "y": {"datum": 0, "type": "quantitative", "scale": {"domain": [0, 100], "nice": false},
             "axis": {"orient": "right", "values": [0,5,10,15,20,25,30,35,40,45,50,55,60,65,70,75,80,85,90,95,100], "labels": false, "tickSize": -3, "title": null}},
       "y2": {"datum": 100}
     }}
  ],
  "resolve": {"axis": {"x": "independent", "y": "independent"}}
},
{
  "width": 315, "height": 95,
  "layer": [
    {"data": {"name": "pi2"},
     "mark": {"type": "line", "color": "#9c9cf0", "strokeWidth": 0.8, "opacity": 0.9, "xOffset": 1, "yOffset": 0.6},
     "encoding": {
       "x": {"field": "x", "type": "quantitative", "scale": {"domain": [20.3, 20.35], "nice": false, "zero": false},
             "axis": {"orient": "bottom", "values": [20.3,20.31,20.32,20.33,20.34,20.35], "tickSize": -6, "labelPadding": 12, "labelFlush": false, "labelExpr": "abs(datum.value - 20.35) < 0.0001 ? 'UT' : (round(datum.value * 100) % 2 == 0 ? format(datum.value, '.2f') : '')", "title": null}},
       "y": {"field": "y", "type": "quantitative", "scale": {"domain": [0, 1.23], "nice": false},
             "axis": {"orient": "left", "values": [0,0.2,0.4,0.6,0.8,1,1.2], "format": ".1f", "tickSize": -6, "labelPadding": 9, "title": "dB, nT", "titleX": -33, "titleY": 47, "titleAngle": -90, "titleBaseline": "middle"}}
     }},
    {"data": {"name": "pi2"},
     "mark": {"type": "line", "color": "#2a2a20", "strokeWidth": 0.9},
     "encoding": {
       "x": {"field": "x", "type": "quantitative", "scale": {"domain": [20.3, 20.35], "nice": false, "zero": false},
             "axis": {"orient": "top", "values": [20.3,20.31,20.32,20.33,20.34,20.35], "labels": false, "tickSize": -6, "title": null}},
       "y": {"field": "y", "type": "quantitative", "scale": {"domain": [0, 1.23], "nice": false},
             "axis": {"orient": "right", "values": [0,0.2,0.4,0.6,0.8,1,1.2], "labels": false, "tickSize": -6, "title": null}}
     }},
    {"data": {"name": "botlab"},
     "mark": {"type": "text", "align": "left", "baseline": "middle", "font": "DejaVu Sans", "fontSize": 11, "color": "#333"},
     "encoding": {
       "x": {"field": "x", "type": "quantitative", "scale": {"domain": [20.3, 20.35], "nice": false, "zero": false},
             "axis": {"orient": "bottom", "values": [20.3,20.302,20.304,20.306,20.308,20.31,20.312,20.314,20.316,20.318,20.32,20.322,20.324,20.326,20.328,20.33,20.332,20.334,20.336,20.338,20.34,20.342,20.344,20.346,20.348,20.35], "labels": false, "tickSize": -3, "title": null}},
       "y": {"field": "y", "type": "quantitative", "scale": {"domain": [0, 1.23], "nice": false},
             "axis": {"orient": "left", "values": [0,0.05,0.1,0.15,0.2,0.25,0.3,0.35,0.4,0.45,0.5,0.55,0.6,0.65,0.7,0.75,0.8,0.85,0.9,0.95,1,1.05,1.1,1.15,1.2], "labels": false, "tickSize": -3, "title": null}},
       "text": {"field": "label"}
     }},
    {"data": {"name": "mark"},
     "mark": {"type": "rule", "strokeDash": [2, 3], "color": "#222", "strokeWidth": 1},
     "encoding": {
       "x": {"field": "t", "type": "quantitative", "scale": {"domain": [20.3, 20.35], "nice": false, "zero": false},
             "axis": {"orient": "top", "values": [20.3,20.302,20.304,20.306,20.308,20.31,20.312,20.314,20.316,20.318,20.32,20.322,20.324,20.326,20.328,20.33,20.332,20.334,20.336,20.338,20.34,20.342,20.344,20.346,20.348,20.35], "labels": false, "tickSize": -3, "title": null}},
       "y": {"datum": 0, "type": "quantitative", "scale": {"domain": [0, 1.23], "nice": false},
             "axis": {"orient": "right", "values": [0,0.05,0.1,0.15,0.2,0.25,0.3,0.35,0.4,0.45,0.5,0.55,0.6,0.65,0.7,0.75,0.8,0.85,0.9,0.95,1,1.05,1.1,1.15,1.2], "labels": false, "tickSize": -3, "title": null}},
       "y2": {"datum": 1.23}
     }}
  ],
  "resolve": {"axis": {"x": "independent", "y": "independent"}}
}
],
"spacing": 0,
"bounds": "flush"
}
